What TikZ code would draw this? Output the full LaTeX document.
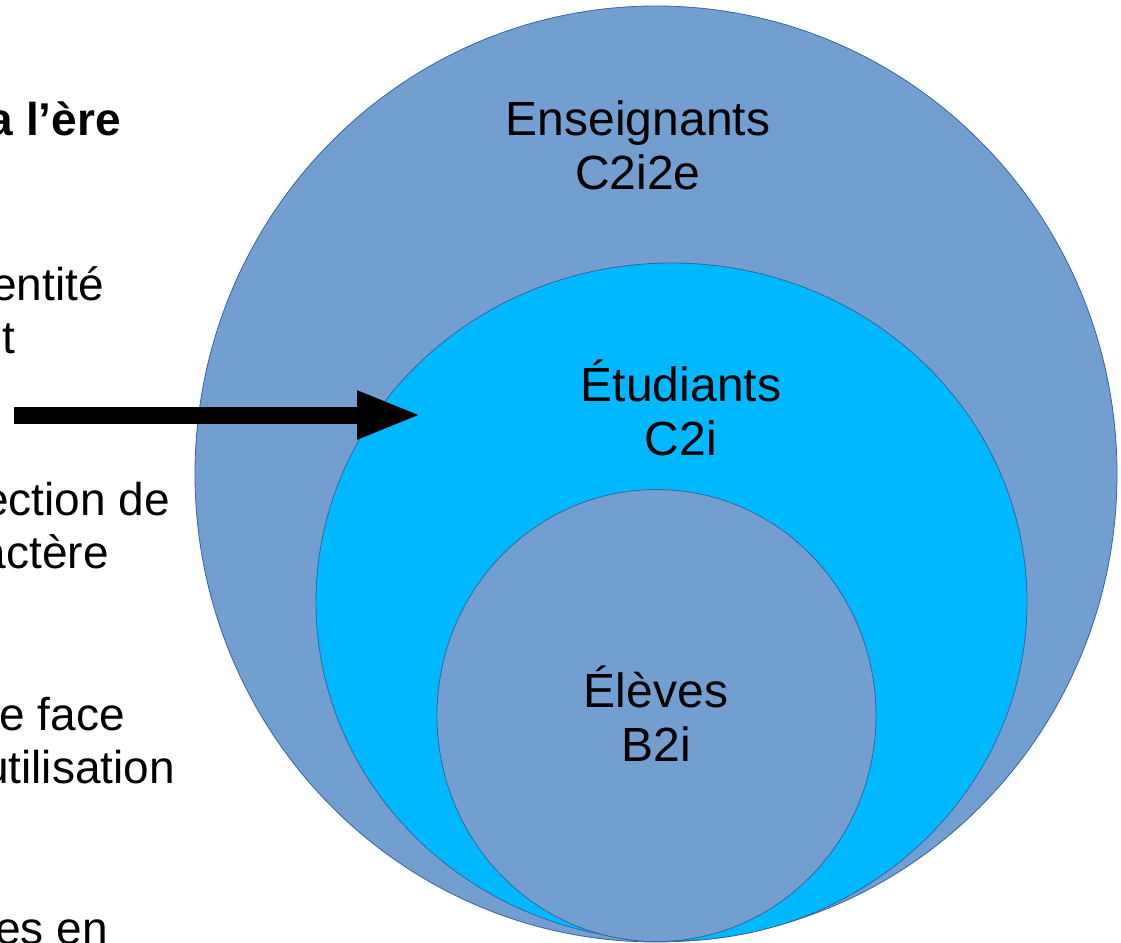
\documentclass[tikz,border=0pt]{standalone}
\usepackage{fontspec}
\setmainfont{Liberation Sans}
\usetikzlibrary{arrows.meta}
\definecolor{ringblue}{HTML}{729FCF}
\definecolor{ringcyan}{HTML}{00B8FF}
\definecolor{ringedge}{HTML}{3465A4}

\begin{document}
\begin{tikzpicture}[
    x=1pt, y=-1pt,
    ring/.style={draw=ringedge, line width=0.8pt},
    ring label/.style={anchor=base, align=center, inner sep=0pt, font=\fontsize{48}{54}\selectfont},
    side text/.style={anchor=base east, inner sep=0pt, font=\fontsize{46}{53}\selectfont},
    big arrow/.style={line width=17pt, -{Triangle[length=65pt, width=44pt]}}
    ]
    \useasboundingbox (0,0) rectangle (1121,942);
    \clip (0,0) rectangle (1121,942);

    % rings
    \draw[ring, fill=ringblue] (656,474) ellipse [x radius=461, y radius=468];
    \draw[ring, fill=ringcyan] (671.5,602) ellipse [x radius=355.5, y radius=339];
    \draw[ring, fill=ringblue] (656.5,715.5) ellipse [x radius=219.5, y radius=226];

    % ring labels (base = last line)
    \node[ring label] (teachers) at (638,189) {Enseignants\\C2i2e};
    \node[ring label] (students) at (681,455) {Étudiants\\C2i};
    \node[ring label] (pupils) at (656,761) {Élèves\\B2i};

    % side text
    \node[side text, font=\fontsize{46}{53}\selectfont\bfseries] (era) at (121,135) {a l’ère};
    \node[side text] (identity) at (104,300) {entité};
    \node[side text] (identityb) at (15,353) {t};
    \node[side text] (section) at (170,515) {ection de};
    \node[side text] (character) at (109,568) {actère};
    \node[side text] (face) at (125,730) {e face};
    \node[side text] (usage) at (175,783) {utilisation};
    \node[side text] (ones) at (108,944) {es en};

    % arrow
    \coordinate (tail) at (14,415);
    \coordinate (tip) at (422,415);
    \draw[big arrow] (tail) -- (tip);
\end{tikzpicture}
\end{document}
